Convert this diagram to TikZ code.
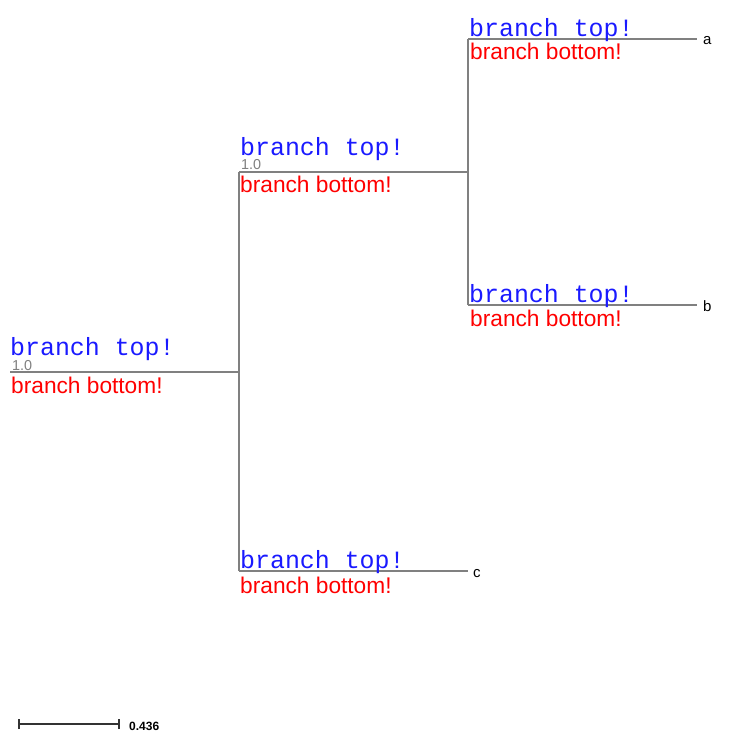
\documentclass[tikz,border=0pt]{standalone}
\usepackage{fontspec}
\setmainfont{Liberation Sans}
\newfontfamily\monofnt{Liberation Mono}
\definecolor{tblue}{HTML}{1A1AFF}
\definecolor{tred}{HTML}{FF0000}
\definecolor{tgray}{HTML}{808080}
\begin{document}
\begin{tikzpicture}[x=1pt,y=-1pt,
  edge/.style={draw=tgray,line width=1.1pt},
  toptxt/.style={anchor=base west,inner sep=0pt,text=tblue,font=\monofnt\fontsize{24.9}{26}\selectfont},
  bottxt/.style={anchor=base west,inner sep=0pt,text=tred,font=\fontsize{22.7}{24}\selectfont},
  suptxt/.style={anchor=base west,inner sep=0pt,text=tgray,font=\fontsize{14.4}{16}\selectfont},
  leaftxt/.style={anchor=base west,inner sep=0pt,text=black,font=\fontsize{15}{17}\selectfont}]
\useasboundingbox (0,0) rectangle (747,738);
% tree coordinates
\coordinate (r0) at (10,372);
\coordinate (n1) at (239,372);
\coordinate (n1t) at (239,172);
\coordinate (n1b) at (239,571);
\coordinate (n2) at (468,172);
\coordinate (n2t) at (468,39);
\coordinate (n2b) at (468,305);
\coordinate (la) at (697,39);
\coordinate (lb) at (697,305);
\coordinate (lc) at (468,571);
% branches
\draw[edge] (r0) -- (n1);
\draw[edge] (n1t) -- (n1b);
\draw[edge] (n1t) -- (n2);
\draw[edge] (n2t) -- (n2b);
\draw[edge] (n2t) -- (la);
\draw[edge] (n2b) -- (lb);
\draw[edge] (n1b) -- (lc);
% root texts
\node[toptxt] (rt) at (10,355.5) {branch top!};
\node[suptxt] (rs) at (12,370) {1.0};
\node[bottxt] (rb) at (11,393) {branch bottom!};
% internal node texts
\node[toptxt] (it) at (240,155.5) {branch top!};
\node[suptxt] (is) at (241,170) {1.0};
\node[bottxt] (ib) at (240,193) {branch bottom!};
% leaf a
\node[toptxt] (at) at (469,36.5) {branch top!};
\node[bottxt] (ab) at (470,60) {branch bottom!};
\node[leaftxt] (an) at (703,45) {a};
% leaf b
\node[toptxt] (bt) at (469,302) {branch top!};
\node[bottxt] (bb) at (470,326) {branch bottom!};
\node[leaftxt] (bn) at (703,311.5) {b};
% leaf c
\node[toptxt] (ct) at (240,568) {branch top!};
\node[bottxt] (cb) at (240,593) {branch bottom!};
\node[leaftxt] (cn) at (473,577) {c};
% scale bar
\coordinate (s0) at (19,724);
\coordinate (s1) at (119,724);
\draw[line width=1.8pt,draw=black!80] (s0) -- (s1);
\draw[line width=1.8pt,draw=black!80] ([yshift=-5]s0) -- ([yshift=5]s0);
\draw[line width=1.8pt,draw=black!80] ([yshift=-5]s1) -- ([yshift=5]s1);
\node[anchor=base west,inner sep=0pt,font=\bfseries\fontsize{12}{14}\selectfont] (sl) at (129,730) {0.436};
\end{tikzpicture}
\end{document}
